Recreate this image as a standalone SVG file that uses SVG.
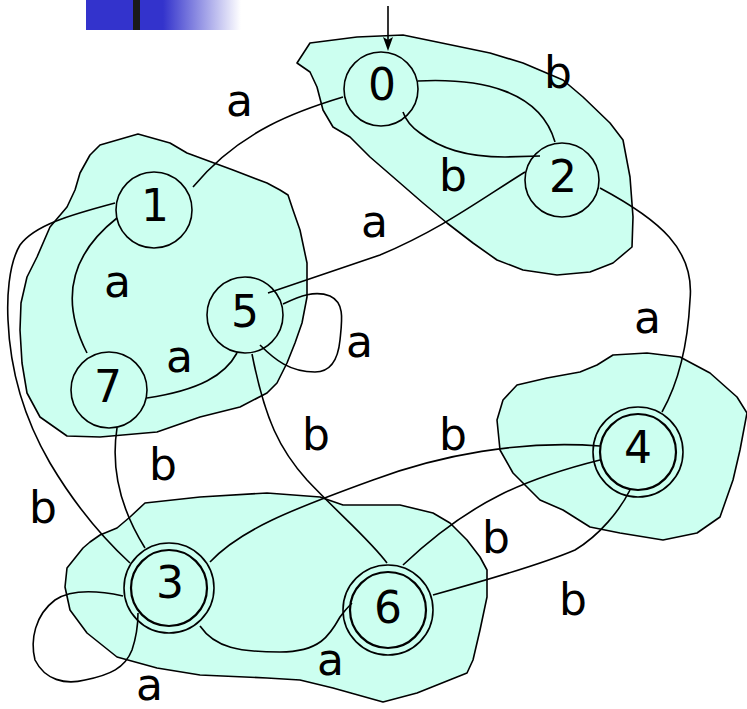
<svg xmlns="http://www.w3.org/2000/svg" width="747" height="709" viewBox="0 0 747 709">
<style>
.blob{fill:#ccfff0;stroke:#000;stroke-width:1.6;stroke-linejoin:round}
.st{fill:#ccfff0;stroke:#000;stroke-width:1.6}
.ac{fill:none;stroke:#000;stroke-width:2.2}
.e{fill:none;stroke:#000;stroke-width:1.6}
.ah{fill:#000;stroke:none}
text{font-family:"DejaVu Sans","Verdana",sans-serif;font-size:44px;fill:#000}
.n{text-anchor:middle}
</style>
<defs>
<linearGradient id="g" x1="0" x2="1" y1="0" y2="0">
<stop offset="0" stop-color="#3333cc"/>
<stop offset="1" stop-color="#ffffff"/>
</linearGradient>
</defs>
<rect x="86" y="0" width="78" height="30" fill="#3333cc"/>
<rect x="163" y="0" width="78" height="30" fill="url(#g)"/>
<rect x="133" y="0" width="7" height="30" fill="#1a1a1a"/>
<g id="blobs">
<path class="blob" d="M310,43 L357,37 L403,35 L437,42 L490,53 L523,63 L563,80 L583,97 L610,123 L623,140 L630,177 L633,217 L632,247 L613,263 L590,272 L557,275 L523,270 L497,260 L473,243 L447,223 L423,203 L400,183 L370,157 L350,137 L333,127 L323,110 L317,87 L310,72 L297,63 Z"/>
<path class="blob" d="M138,134 L170,143 L187,153 L233,170 L267,183 L280,190 L288,195 L293,210 L300,230 L307,263 L307,297 L302,323 L295,343 L287,363 L277,383 L267,393 L240,407 L200,417 L157,432 L100,437 L67,436 L40,417 L27,393 L22,363 L20,330 L21,303 L27,277 L37,257 L50,227 L67,207 L75,190 L80,173 L90,155 L100,145 Z"/>
<path class="blob" d="M517,385 L547,378 L580,372 L597,365 L613,355 L647,353 L680,357 L710,373 L737,397 L747,413 L740,450 L733,480 L720,517 L697,533 L663,540 L620,533 L590,527 L563,510 L540,500 L513,473 L500,450 L497,420 L503,400 Z"/>
<path class="blob" d="M145,503 L200,497 L267,493 L320,497 L343,505 L400,505 L433,513 L450,523 L467,540 L480,557 L487,570 L487,597 L480,630 L473,660 L467,673 L417,693 L383,702 L333,688 L300,680 L267,678 L200,675 L157,668 L117,657 L87,633 L70,610 L65,587 L67,568 L83,548 L90,542 L100,535 L117,528 L130,517 Z"/>
</g>
<g id="node0"><circle class="st" cx="381" cy="89" r="37"/><text class="n" x="382" y="100">0</text></g>
<g id="node2"><circle class="st" cx="562" cy="180" r="37"/><text class="n" x="563" y="192">2</text></g>
<g id="node1"><circle class="st" cx="154" cy="210" r="38"/><text class="n" x="155" y="221">1</text></g>
<g id="node5"><circle class="st" cx="245" cy="315" r="38"/><text class="n" x="245" y="327">5</text></g>
<g id="node7"><circle class="st" cx="109" cy="390" r="38"/><text class="n" x="108" y="402">7</text></g>
<g id="node3"><circle class="st" cx="169" cy="588" r="45"/><circle class="ac" cx="169" cy="588" r="38"/><text class="n" x="170" y="598">3</text></g>
<g id="node6"><circle class="st" cx="388" cy="610" r="45"/><circle class="ac" cx="388" cy="610" r="38"/><text class="n" x="388" y="623">6</text></g>
<g id="node4"><circle class="st" cx="638" cy="452" r="45"/><circle class="ac" cx="638" cy="452" r="38"/><text class="n" x="638" y="463">4</text></g>
<g id="connectors">
<path class="e" d="M388,6 L388,42"/>
<path class="ah" d="M383,37 L388,51 L393,37 L388,40 Z"/>
<path class="e" d="M418,81 C480,78 540,90 555,142"/>
<path class="e" d="M540,156 L505,157 C465,157 440,148 420,133 C410,126 405,118 403,112"/>
<path class="e" d="M343,97 C300,110 240,130 193,187"/>
<path class="e" d="M525,172 C480,200 440,230 380,255 L268,293"/>
<path class="e" d="M600,188 C660,220 695,250 690,300 C688,340 680,380 662,412"/>
<path class="e" d="M117,218 C70,255 60,300 87,353"/>
<path class="e" d="M147,398 C200,390 225,375 237,353"/>
<path class="e" d="M283,304 C300,296 315,290 330,296 C345,303 342,320 340,340 C338,360 330,372 315,372 C290,372 275,360 260,345"/>
<path class="e" d="M115,203 C70,215 35,225 20,245 C8,265 7,300 8,320 C10,370 25,420 50,463 C75,505 105,540 130,563"/>
<path class="e" d="M117,428 C112,460 115,500 145,548"/>
<path class="e" d="M252,354 C265,420 280,450 307,480 C340,515 370,540 387,563"/>
<path class="e" d="M123,596 C95,590 70,590 55,600 C35,615 30,640 35,660 C45,680 65,685 85,680 C110,675 125,668 132,650 C137,635 138,620 138,613"/>
<path class="e" d="M200,626 C215,648 240,652 280,652 C320,652 330,635 340,617 C345,610 350,605 352,603"/>
<path class="e" d="M210,562 C240,530 290,510 373,480 C440,455 520,440 600,446"/>
<path class="e" d="M403,565 C440,530 470,510 500,495 C530,480 560,470 600,460"/>
<path class="e" d="M433,595 C480,582 540,565 575,550 C600,535 620,510 630,490"/>
</g>
<g id="labels">
<text x="226" y="116">a</text>
<text x="544" y="88">b</text>
<text x="439" y="191">b</text>
<text x="361" y="237">a</text>
<text x="104" y="297">a</text>
<text x="166" y="372">a</text>
<text x="346" y="357">a</text>
<text x="634" y="333">a</text>
<text x="302" y="450">b</text>
<text x="439" y="450">b</text>
<text x="149" y="480">b</text>
<text x="29" y="523">b</text>
<text x="482" y="553">b</text>
<text x="559" y="615">b</text>
<text x="317" y="675">a</text>
<text x="136" y="700">a</text>
</g>
</svg>
